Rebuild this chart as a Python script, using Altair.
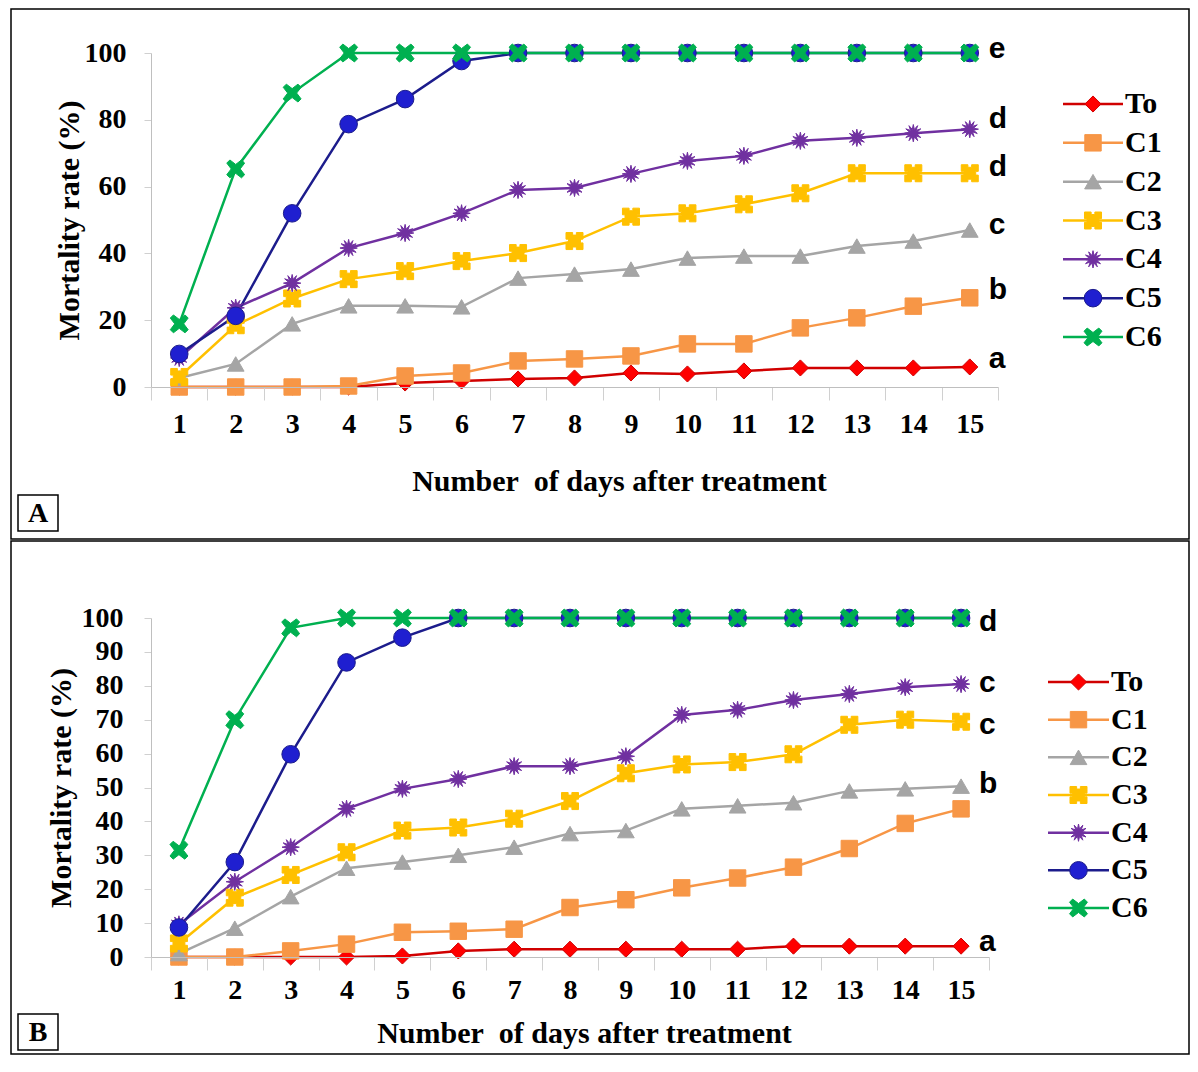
import math
import altair as alt
import pandas as pd

days = list(range(1, 16))
series = ["To", "C1", "C2", "C3", "C4", "C5", "C6"]

# ---- Panel A values (mortality %, days 1..15)
A_To = [0, 0, 0, 0, 1.2, 1.8, 2.4, 2.7, 4.2, 3.9, 4.8, 5.7, 5.7, 5.7, 6.0]
A_C1 = [0, 0, 0, 0.3, 3.3, 4.2, 7.8, 8.4, 9.3, 12.9, 12.9, 17.7, 20.7, 24.2, 26.7]
A_C2 = [2.7, 6.9, 18.9, 24.3, 24.3, 24.0, 32.6, 33.8, 35.3, 38.6, 39.2, 39.2, 42.2, 43.7, 47.0]
A_C3 = [3.0, 18.5, 26.5, 32.3, 34.7, 37.7, 40.1, 43.7, 51.0, 52.0, 54.7, 58.0, 64.0, 64.0, 64.0]
A_C4 = [8.7, 23.7, 31.1, 41.6, 46.1, 52.0, 59.0, 59.6, 63.8, 67.7, 69.2, 73.7, 74.6, 76.0, 77.2]
A_C5 = [9.9, 21.3, 52.0, 78.7, 86.2, 97.6, 100, 100, 100, 100, 100, 100, 100, 100, 100]
A_C6 = [18.9, 65.3, 88.0, 100, 100, 100, 100, 100, 100, 100, 100, 100, 100, 100, 100]

# ---- Panel B values
B_To = [0, 0, 0, 0, 0.3, 1.8, 2.3, 2.3, 2.3, 2.3, 2.3, 3.2, 3.2, 3.2, 3.2]
B_C1 = [0, 0, 1.8, 3.8, 7.3, 7.6, 8.2, 14.6, 16.9, 20.4, 23.3, 26.5, 32.0, 39.4, 43.7]
B_C2 = [1.0, 8.5, 17.8, 26.2, 28.0, 30.0, 32.4, 36.4, 37.3, 43.7, 44.6, 45.5, 49.0, 49.6, 50.4]
B_C3 = [4.0, 17.5, 24.2, 30.9, 37.3, 38.2, 40.8, 46.0, 54.2, 56.8, 57.5, 59.8, 68.5, 70.0, 69.4]
B_C4 = [9.6, 22.2, 32.4, 43.7, 49.6, 52.5, 56.3, 56.3, 59.2, 71.4, 72.9, 75.8, 77.6, 79.6, 80.5]
B_C5 = [8.7, 28.0, 59.8, 86.9, 94.2, 100, 100, 100, 100, 100, 100, 100, 100, 100, 100]
B_C6 = [31.5, 70.0, 97.1, 100, 100, 100, 100, 100, 100, 100, 100, 100, 100, 100, 100]

# ---- significance letters at the right end of the curves
A_letters = ["e", "d", "d", "c", "b", "a"]
A_letter_y = [98.5, 77.5, 63.2, 45.8, 26.3, 5.7]
B_letters = ["d", "c", "c", "b", "a"]
B_letter_y = [96.2, 78.1, 65.9, 48.4, 1.7]

A_yticks = [0, 20, 40, 60, 80, 100]
B_yticks = [0, 10, 20, 30, 40, 50, 60, 70, 80, 90, 100]

x_title = "Number\u00a0 of days after treatment"
y_title = "Mortality rate (%)"

# ---- styles
line_colors = ["#D00000", "#F79646", "#A5A5A5", "#FFC000", "#7030A0", "#1C1C8C", "#00B050"]
fill_colors = ["#FF0000", "#F79646", "#A5A5A5", "#FFC000", "#7030A0", "#1F1FD0", "#00B050"]

C3_PATH = ("M-1,-1 L-0.22,-1 L-0.22,-0.7 L0.22,-0.7 L0.22,-1 L1,-1 L1,-0.22 L0.7,-0.22 "
           "L0.7,0.22 L1,0.22 L1,1 L0.22,1 L0.22,0.7 L-0.22,0.7 L-0.22,1 L-1,1 L-1,0.22 "
           "L-0.7,0.22 L-0.7,-0.22 L-1,-0.22 Z")


def star_path(n=12, r_in=0.45):
    pts = []
    for k in range(2 * n):
        a = math.pi * k / n - math.pi / 2
        r = 1.0 if k % 2 == 0 else r_in
        pts.append(f"{r * math.cos(a):.3f},{r * math.sin(a):.3f}")
    return "M" + " L".join(pts) + " Z"


C4_PATH = star_path()
C6_PATH = ("M-1,-0.65 L-0.65,-1 L0,-0.5 L0.65,-1 L1,-0.65 L0.5,0 L1,0.65 L0.65,1 "
           "L0,0.5 L-0.65,1 L-1,0.65 L-0.5,0 Z")

shape_range = ["diamond", "square", "triangle-up", C3_PATH, C4_PATH, "circle", C6_PATH]
size_range = [260, 320, 330, 620, 800, 360, 760]

SERIF = "Liberation Serif"
SANS = "Liberation Sans"

stroke_scale = alt.Scale(domain=series, range=line_colors)
fill_scale = alt.Scale(domain=series, range=fill_colors)
shape_scale = alt.Scale(domain=series, range=shape_range)
size_scale = alt.Scale(domain=series, range=size_range)


def long_df(cols):
    rows = []
    for s, vals in zip(series, cols):
        for d, v in zip(days, vals):
            rows.append({"day": d, "value": v, "series": s})
    return pd.DataFrame(rows)


def panel(cols, letters, letter_y, yticks, W, H, p):
    df = long_df(cols)
    xenc = alt.X(
        "day:O",
        scale=alt.Scale(type="band", paddingInner=0, paddingOuter=0),
        bandPosition=0.5,
        axis=alt.Axis(
            title=x_title, tickBand="extent", labelAngle=0, tickSize=13,
            labelPadding=p["xlabpad"], labelFont=SERIF, labelFontSize=28,
            labelFontWeight="bold", titleFont=SERIF, titleFontSize=30,
            titleFontWeight="bold", titleX=p["xtitle_x"], titleY=p["xtitle_y"],
            titleBaseline="middle", titleAlign="center", grid=False,
            domainColor="#BFBFBF", tickColor="#D0D0D0", labelColor="black",
            titleColor="black", zindex=1,
        ),
    )
    yenc = alt.Y(
        "value:Q",
        scale=alt.Scale(domain=[0, 100], nice=False),
        axis=alt.Axis(
            title=y_title, values=yticks, tickSize=7, labelPadding=p["ylabpad"],
            labelFont=SERIF, labelFontSize=28, labelFontWeight="bold",
            titleFont=SERIF, titleFontSize=30, titleFontWeight="bold",
            titleX=p["ytitle_x"], titleBaseline="middle", titleAlign="center",
            grid=False, domainColor="#BFBFBF", tickColor="#D0D0D0",
            labelColor="black", titleColor="black", zindex=1,
        ),
    )
    one = pd.DataFrame({"k": [0]})

    frame = alt.Chart(one).mark_rect(fillOpacity=0, stroke="black", strokeWidth=1.5).encode(
        x=alt.value(p["fx1"]), x2=alt.value(p["fx2"]),
        y=alt.value(p["fy1"]), y2=alt.value(p["fy2"]),
    )
    box = alt.Chart(one).mark_rect(fill="white", stroke="black", strokeWidth=1.5).encode(
        x=alt.value(p["bx1"]), x2=alt.value(p["bx1"] + 40),
        y=alt.value(p["by1"]), y2=alt.value(p["by1"] + 36),
    )
    box_text = alt.Chart(pd.DataFrame({"t": [p["tag"]]})).mark_text(
        font=SERIF, fontSize=28, fontWeight="bold", color="black",
        align="center", baseline="middle",
    ).encode(x=alt.value(p["bx1"] + 20), y=alt.value(p["by1"] + 19), text="t:N")

    base = alt.Chart(df)
    lines = base.mark_line(strokeWidth=2.5).encode(
        x=xenc, y=yenc,
        stroke=alt.Stroke("series:N", scale=stroke_scale, legend=None),
    )
    points = base.mark_point(filled=True, opacity=1, strokeWidth=1).encode(
        x=xenc, y=yenc,
        fill=alt.Fill("series:N", scale=fill_scale, legend=None),
        stroke=alt.Stroke("series:N", scale=stroke_scale, legend=None),
        shape=alt.Shape("series:N", scale=shape_scale, legend=None),
        size=alt.Size("series:N", scale=size_scale, legend=None),
    )
    ldf = pd.DataFrame({"day": [15] * len(letters), "value": letter_y, "t": letters})
    letter_marks = alt.Chart(ldf).mark_text(
        font=SANS, fontSize=30, fontWeight="bold", color="black",
        align="left", baseline="alphabetic", dx=p["ldx"],
    ).encode(x=xenc, y=yenc, text="t:N")

    main = alt.layer(lines, points, letter_marks)

    legdf = pd.DataFrame({"series": series})
    ly = alt.Y("series:N", sort=series, axis=None,
               scale=alt.Scale(type="point", range=p["leg_y"], padding=0))
    leg_rule = alt.Chart(legdf).mark_rule(strokeWidth=2.5).encode(
        x=alt.value(p["leg_x1"]), x2=alt.value(p["leg_x2"]), y=ly,
        stroke=alt.Stroke("series:N", scale=stroke_scale, legend=None),
    )
    leg_pt = alt.Chart(legdf).mark_point(filled=True, opacity=1, strokeWidth=1).encode(
        x=alt.value((p["leg_x1"] + p["leg_x2"]) / 2), y=ly,
        fill=alt.Fill("series:N", scale=fill_scale, legend=None),
        stroke=alt.Stroke("series:N", scale=stroke_scale, legend=None),
        shape=alt.Shape("series:N", scale=shape_scale, legend=None),
        size=alt.Size("series:N", scale=size_scale, legend=None),
    )
    leg_txt = alt.Chart(legdf).mark_text(
        font=SERIF, fontSize=30, fontWeight="bold", color="black",
        align="left", baseline="middle",
    ).encode(x=alt.value(p["leg_tx"]), y=ly, text="series:N")
    legend = alt.layer(leg_rule, leg_pt, leg_txt)

    deco = alt.layer(frame, box, box_text)

    return alt.layer(deco, main, legend).resolve_scale(y="independent").properties(
        width=W, height=H
    )


pA = dict(xlabpad=10, xtitle_x=468, xtitle_y=94, ylabpad=18, ytitle_x=-82, ldx=19,
          fx1=-140, fx2=1038, fy1=-44, fy2=486, bx1=-133, by1=442, tag="A",
          leg_y=[51, 284], leg_x1=912, leg_x2=972, leg_tx=974)
pB = dict(xlabpad=6, xtitle_x=433, xtitle_y=76, ylabpad=21, ytitle_x=-90, ldx=18,
          fx1=-140, fx2=1038, fy1=-77, fy2=436, bx1=-133, by1=396, tag="B",
          leg_y=[64, 290], leg_x1=897, leg_x2=958, leg_tx=960)

chartA = panel([A_To, A_C1, A_C2, A_C3, A_C4, A_C5, A_C6], A_letters, A_letter_y,
               A_yticks, 847, 334, pA)
chartB = panel([B_To, B_C1, B_C2, B_C3, B_C4, B_C5, B_C6], B_letters, B_letter_y,
               B_yticks, 838, 339, pB)

chart = alt.vconcat(chartA, chartB, spacing=0).properties(
    padding={"left": 2, "top": 0, "right": 0, "bottom": 0},
    background="white",
).configure_view(strokeWidth=0)

chart.save("out.html", embed_options={"renderer": "svg", "actions": False})
